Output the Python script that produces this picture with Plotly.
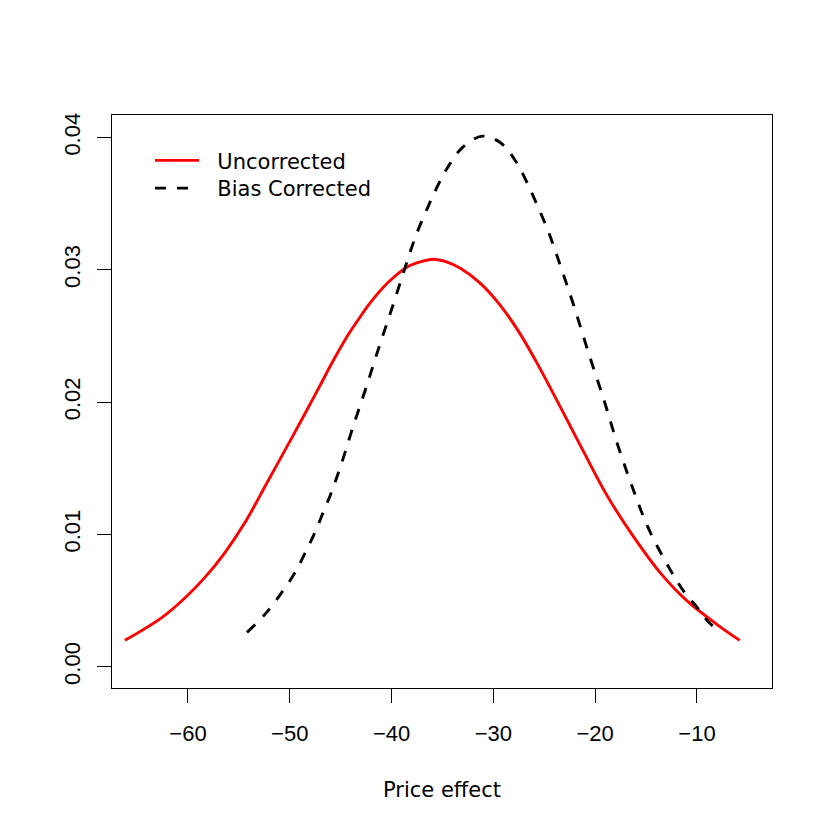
import plotly.graph_objects as go

# Uncorrected density (red, solid)
red_x = [-66.2, -62.6, -60.3, -58.4, -56.4, -54.4, -52.1, -49.8, -47.2, -45.9,
         -44.5, -43.3, -42.1, -40.4, -38.5, -37.2, -35.9, -34.6, -33.2, -31.3,
         -29.3, -27.4, -25.6, -23.4, -21.1, -18.8, -16.2, -13.6, -11.0, -7.85, -5.8]
red_y = [0.0020, 0.0037, 0.0052, 0.0067, 0.0086, 0.0109, 0.0141, 0.0173, 0.0210, 0.0229,
         0.0248, 0.0262, 0.0275, 0.0290, 0.0302, 0.0306, 0.0308, 0.0306, 0.0301, 0.0290,
         0.0273, 0.0252, 0.0228, 0.0196, 0.0162, 0.0129, 0.0098, 0.0071, 0.0050, 0.0031, 0.0020]

# Bias corrected density (black, dashed)
blk_x = [-54.2, -52.4, -50.9, -49.5, -48.5, -47.5, -46.7, -45.9, -44.9, -43.8,
         -42.5, -41.3, -40.0, -38.7, -37.6, -36.4, -35.5, -34.6, -33.1, -31.1,
         -29.3, -27.8, -26.7, -25.7, -24.7, -23.9, -23.1, -22.1, -20.6, -19.15,
         -17.84, -16.36, -14.73, -12.6, -11.3, -10.0, -9.0, -8.0]
blk_y = [0.0026, 0.0040, 0.0055, 0.0071, 0.0086, 0.0102, 0.0117, 0.0132, 0.0154, 0.0181,
         0.0211, 0.0240, 0.0270, 0.0301, 0.0326, 0.0348, 0.0363, 0.0376, 0.0392, 0.0401,
         0.0396, 0.0382, 0.0366, 0.0349, 0.0331, 0.0314, 0.0296, 0.0273, 0.0236, 0.0202,
         0.0169, 0.0136, 0.0104, 0.0073, 0.0057, 0.0045, 0.0035, 0.0028]

x_ticks = [-60, -50, -40, -30, -20, -10]
x_tick_labels = ["\u221260", "\u221250", "\u221240", "\u221230", "\u221220", "\u221210"]
y_ticks = [0.00, 0.01, 0.02, 0.03, 0.04]
y_tick_labels = ["0.00", "0.01", "0.02", "0.03", "0.04"]

TEXT_FONT = "DejaVu Sans"
TICK_FONT = "Liberation Sans"

fig = go.Figure()
fig.add_trace(go.Scatter(x=red_x, y=red_y, mode="lines", name="\u00a0\u00a0Uncorrected",
                         line=dict(color="#ff0000", width=2.9, shape="spline", smoothing=1.0),
                         legend="legend"))
fig.add_trace(go.Scatter(x=blk_x, y=blk_y, mode="lines", name="\u00a0\u00a0Bias Corrected",
                         line=dict(color="#000000", width=2.9, dash="11px,11px",
                                   shape="spline", smoothing=1.0),
                         legend="legend2"))

axis_common = dict(showline=True, linecolor="black", linewidth=1, mirror=True,
                   ticks="outside", ticklen=14, tickwidth=1, tickcolor="black",
                   showgrid=False, zeroline=False,
                   tickfont=dict(family=TICK_FONT, size=22, color="black"))

legend_common = dict(xanchor="left", yanchor="top", bgcolor="rgba(0,0,0,0)",
                     borderwidth=0, itemwidth=44,
                     font=dict(family=TEXT_FONT, size=21, color="black"))

fig.update_layout(
    width=830, height=830,
    margin=dict(l=104, r=66, t=107, b=150),
    paper_bgcolor="white", plot_bgcolor="white",
    font=dict(family=TEXT_FONT, size=22, color="black"),
    xaxis=dict(range=[-67.46, -2.63], tickmode="array", tickvals=x_ticks,
               ticktext=x_tick_labels, ticklabelstandoff=12,
               title=dict(text="Price effect", font=dict(family=TEXT_FONT, size=21), standoff=36),
               **axis_common),
    yaxis=dict(range=[-0.0016, 0.0417], tickmode="array", tickvals=y_ticks,
               ticktext=y_tick_labels, tickangle=-90, ticklabelstandoff=8,
               **axis_common),
    legend=dict(x=0.0576, y=0.956, **legend_common),
    legend2=dict(x=0.0576, y=0.9075, **legend_common),
    showlegend=True,
)

fig.write_html("out.html")
